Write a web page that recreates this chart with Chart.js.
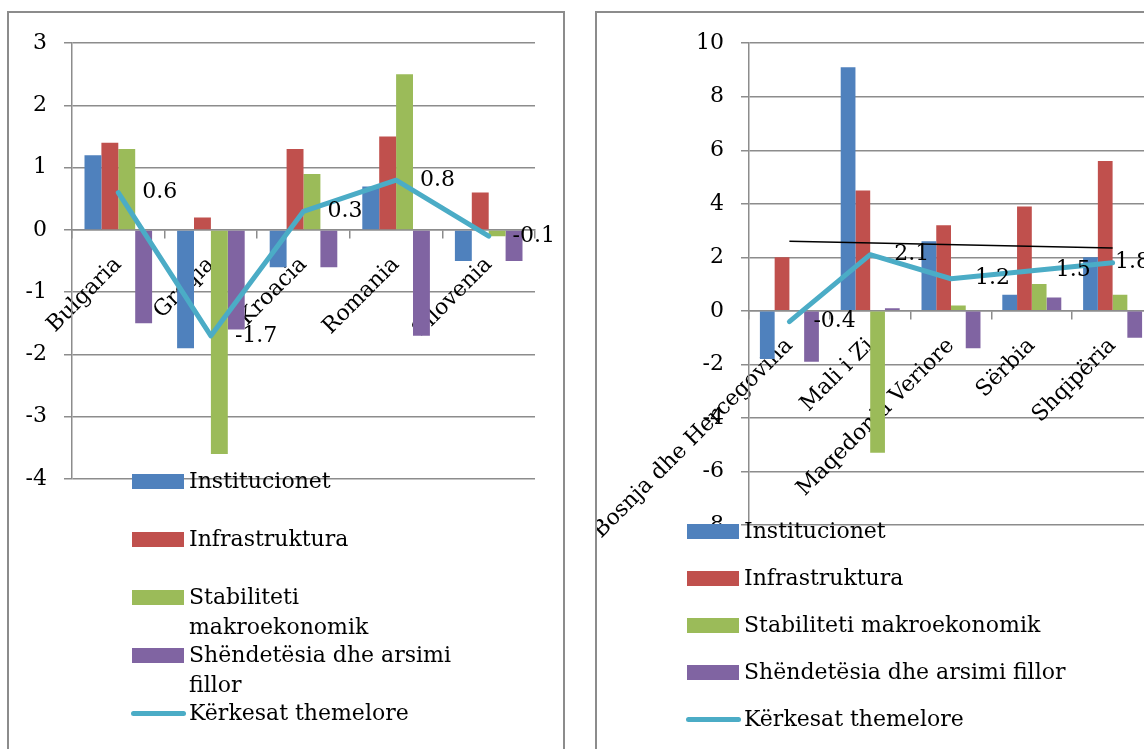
<!DOCTYPE html>
<html>
<head>
<meta charset="utf-8">
<title>Kërkesat themelore</title>
<script src="https://cdn.jsdelivr.net/npm/chart.js@4.4.1/dist/chart.umd.min.js"></script>
<style>
  html, body { margin: 0; padding: 0; background: #fff; }
  body { width: 1144px; height: 749px; overflow: hidden; position: relative; font-family: 'DejaVu Serif', serif; }
  .box { position: absolute; border: 2px solid #8c8c8c; box-sizing: border-box; }
  #boxLeft { left: 7px; top: 11px; width: 558px; height: 800px; }
  #boxRight { left: 595px; top: 11px; width: 565px; height: 800px; }
  .box canvas { position: absolute; left: 0; top: 0; }
  .legend { position: absolute; font-size: 22px; color: #000; }
  .legend .item { position: relative; }
  .legend .swatch { position: absolute; left: 0; top: 7.5px; width: 52px; height: 15px; }
  .legend .line { position: absolute; left: -1px; top: 12.5px; width: 55px; height: 5px; border-radius: 3px; }
  .legend .text { position: absolute; left: 57px; top: 0; line-height: 30px; }
</style>
</head>
<body>
<div class="box" id="boxLeft"><canvas id="chartLeft" width="554" height="736"></canvas></div>
<div class="box" id="boxRight"><canvas id="chartRight" width="561" height="736"></canvas></div>
<div class="legend" id="legendLeft" style="left:132px; top:466px;"></div>
<div class="legend" id="legendRight" style="left:687px; top:516px;"></div>

<script>
// series names and colours
var seriesNames = ['Institucionet', 'Infrastruktura', 'Stabiliteti makroekonomik', 'Shëndetësia dhe arsimi fillor'];
var seriesColors = ['#4F81BD', '#C0504D', '#9BBB59', '#8064A2'];
var lineName = 'Kërkesat themelore';
var lineColor = '#4BACC6';

// left chart
var categoriesLeft = ['Bulgaria', 'Greqia', 'Kroacia', 'Romania', 'Sllovenia'];
var institucionetLeft = [1.2, -1.9, -0.6, 0.7, -0.5];
var infrastrukturaLeft = [1.4, 0.2, 1.3, 1.5, 0.6];
var stabilitetiLeft = [1.3, -3.6, 0.9, 2.5, -0.1];
var shendetesiaLeft = [-1.5, -1.6, -0.6, -1.7, -0.5];
var kerkesatLeft = [0.6, -1.7, 0.3, 0.8, -0.1];

// right chart
var categoriesRight = ['Bosnja dhe Hercegovina', 'Mali i Zi', 'Maqedonia Veriore', 'Sërbia', 'Shqipëria'];
var institucionetRight = [-1.8, 9.1, 2.6, 0.6, 2.0];
var infrastrukturaRight = [2.0, 4.5, 3.2, 3.9, 5.6];
var stabilitetiRight = [0, -5.3, 0.2, 1.0, 0.6];
var shendetesiaRight = [-1.9, 0.1, -1.4, 0.5, -1.0];
var kerkesatRight = [-0.4, 2.1, 1.2, 1.5, 1.8];
var trendRight = [2.6, null, null, null, 2.35];

var FONT = { family: "'DejaVu Serif', serif", size: 22 };
var GRID = '#8c8c8c';

// value labels to the right of the line points
var pointLabels = {
    id: 'pointLabels',
    afterDatasetsDraw: function (chart) {
        var ctx = chart.ctx;
        chart.data.datasets.forEach(function (ds, i) {
            if (!ds.showValues) return;
            var meta = chart.getDatasetMeta(i);
            ctx.save();
            ctx.font = "22px 'DejaVu Serif', serif";
            ctx.fillStyle = '#000';
            ctx.textBaseline = 'middle';
            ctx.textAlign = 'left';
            meta.data.forEach(function (pt, j) {
                var txt = String(ds.data[j]);
                var w = ctx.measureText(txt).width;
                var x = Math.min(pt.x + 24, chart.width - w - 8);
                ctx.fillText(txt, x, pt.y);
            });
            ctx.restore();
        });
    }
};

function makeChart(id, categories, bars, line, trend, yMin, yMax, yStep, axisWidth, padding) {
    var datasets = [{
        type: 'line',
        label: lineName,
        data: line,
        borderColor: lineColor,
        borderWidth: 5,
        borderCapStyle: 'round',
        borderJoinStyle: 'round',
        pointRadius: 0,
        tension: 0,
        order: 0,
        showValues: true
    }];
    if (trend) {
        datasets.push({
            type: 'line',
            label: 'trend',
            data: trend,
            borderColor: '#000',
            borderWidth: 1.5,
            pointRadius: 0,
            spanGaps: true,
            order: 0
        });
    }
    bars.forEach(function (vals, i) {
        datasets.push({
            type: 'bar',
            label: seriesNames[i],
            data: vals,
            backgroundColor: seriesColors[i],
            borderWidth: 0,
            categoryPercentage: 0.73,
            barPercentage: 1,
            order: 1
        });
    });

    return new Chart(document.getElementById(id), {
        data: { labels: categories, datasets: datasets },
        plugins: [pointLabels],
        options: {
            responsive: false,
            animation: false,
            layout: { padding: padding },
            plugins: { legend: { display: false }, tooltip: { enabled: false } },
            scales: {
                x: {
                    type: 'category',
                    position: { y: 0 },
                    offset: true,
                    // labels hang over the y axis like in Excel, don't let them push the plot
                    afterFit: function (s) { s.paddingLeft = 0; s.paddingRight = 0; s.paddingTop = 0; s.paddingBottom = 0; },
                    grid: { display: true, offset: true, drawOnChartArea: false, drawTicks: true, tickLength: 8, color: GRID, lineWidth: 1.5 },
                    border: { display: true, color: GRID, width: 1.5 },
                    ticks: { font: FONT, color: '#000', autoSkip: false, minRotation: 45, maxRotation: 45, padding: 14 }
                },
                y: {
                    min: yMin,
                    max: yMax,
                    afterFit: function (s) { s.width = axisWidth; },
                    grid: { color: GRID, lineWidth: 1.5, tickLength: 8 },
                    border: { display: true, color: GRID, width: 1.5 },
                    ticks: { stepSize: yStep, font: FONT, color: '#000', padding: 17 }
                }
            }
        }
    });
}

function buildLegend(id, step, textWidth) {
    var el = document.getElementById(id);
    var html = '';
    seriesNames.forEach(function (name, i) {
        html += '<div class="item" style="height:' + step + 'px">' +
            '<div class="swatch" style="background:' + seriesColors[i] + '"></div>' +
            '<div class="text" style="width:' + textWidth + 'px">' + name + '</div></div>';
    });
    html += '<div class="item" style="height:' + step + 'px">' +
        '<div class="line" style="background:' + lineColor + '"></div>' +
        '<div class="text" style="width:' + textWidth + 'px">' + lineName + '</div></div>';
    el.innerHTML = html;
}

makeChart('chartLeft', categoriesLeft,
    [institucionetLeft, infrastrukturaLeft, stabilitetiLeft, shendetesiaLeft],
    kerkesatLeft, null, -4, 3, 1, 63, { left: 0, right: 28, top: 21, bottom: 270 });

makeChart('chartRight', categoriesRight,
    [institucionetRight, infrastrukturaRight, stabilitetiRight, shendetesiaRight],
    kerkesatRight, trendRight, -8, 10, 2, 152, { left: 0, right: 5, top: 21, bottom: 224 });

buildLegend('legendLeft', 58, 280);
buildLegend('legendRight', 47, 400);
</script>
</body>
</html>
